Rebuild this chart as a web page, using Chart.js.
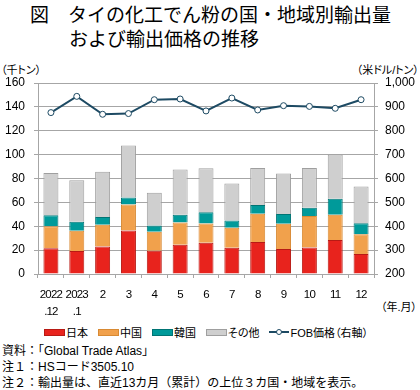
<!DOCTYPE html>
<html lang="ja">
<head>
<meta charset="utf-8">
<script src="https://cdn.jsdelivr.net/npm/chart.js@4/dist/chart.umd.min.js"></script>
<style>
    body { margin: 0; width: 420px; height: 390px; overflow: hidden; background: #fff; font-family: 'Liberation Sans', 'Noto Sans CJK JP', sans-serif; color: #000; font-feature-settings: 'palt'; }
    .abs { position: absolute; white-space: nowrap; }
    #title { left: 30px; top: 2px; font-size: 19px; line-height: 24px; font-family: 'Noto Sans CJK JP', sans-serif; font-feature-settings: normal; }
    #title .l2 { padding-left: 39px; }
    .unit { font-size: 11px; top: 61px; }
    #legend { top: 324px; left: 0; width: 412px; display: flex; justify-content: center; align-items: center; font-size: 11px; }
    #legend .item { display: flex; align-items: center; margin: 0 5px; }
    #legend .box { display: inline-block; width: 19px; height: 5px; margin-right: 1px; border: 1px solid; }
    #legend .ln { position: relative; display: inline-block; width: 20px; height: 2px; background: #1d4a63; margin-right: 1px; }
    #legend .ln i { position: absolute; left: 7px; top: -2px; width: 4px; height: 4px; border: 1px solid #1d4a63; border-radius: 50%; background: #fff; }
    #notes { left: 2px; top: 343px; font-size: 12px; line-height: 16px; font-feature-settings: normal; }
</style>
</head>
<body>
<div class="abs" id="title">図　タイの化工でん粉の国・地域別輸出量<br><span class="l2">および輸出価格の推移</span></div>
<div class="abs unit" style="left: 1px">（千トン）</div>
<div class="abs unit" style="right: 1px">（米ドル/トン）</div>
<div class="abs" style="right: 3px; top: 298px; font-size: 11px">（年.月）</div>
<div style="position: absolute; left: 0; top: 0; width: 420px; height: 322px">
    <canvas id="canvas"></canvas>
</div>
<div class="abs" id="legend">
    <span class="item"><span class="box" style="background: #e8231d; border-color: #b81a14"></span>日本</span>
    <span class="item"><span class="box" style="background: #f1a14c; border-color: #d88a34"></span>中国</span>
    <span class="item"><span class="box" style="background: #009a9a; border-color: #007474"></span>韓国</span>
    <span class="item"><span class="box" style="background: #cfcfcf; border-color: #9f9f9f"></span>その他</span>
    <span class="item"><span class="ln"><i></i></span>FOB価格（右軸）</span>
</div>
<div class="abs" id="notes">資料：「Global Trade Atlas」<br>注１：HSコード3505.10<br>注２：輸出量は、直近13カ月（累計）の上位３カ国・地域を表示。</div>
<script>
// Месяцы (подписи оси X).
const months = [['2022', '.12'], ['2023', '.1'], '2', '3', '4', '5', '6', '7', '8', '9', '10', '11', '12']

// Экспорт по странам, тыс. т.
const japan = [21.5, 19.2, 23.1, 36.5, 19.5, 24.5, 26.2, 22.0, 26.8, 20.9, 22.3, 28.4, 16.7]
const china = [18.6, 17.0, 18.2, 21.8, 15.9, 18.7, 16.2, 16.7, 23.7, 21.2, 26.2, 21.2, 16.7]
const korea = [9.2, 7.6, 6.4, 5.8, 5.3, 6.4, 9.4, 6.2, 7.2, 8.1, 7.0, 13.4, 9.2]
const others = [35.4, 34.8, 37.9, 43.5, 27.3, 37.9, 36.8, 30.9, 31.2, 34.0, 33.4, 37.1, 30.7]

// Цена FOB, долл./т (правая ось).
const fobPrice = [876, 944, 869, 872, 930, 933, 883, 937, 887, 905, 902, 894, 930]

Chart.defaults.animation = false
Chart.defaults.font.family = "'Liberation Sans', 'Noto Sans CJK JP', sans-serif"
Chart.defaults.font.size = 12
Chart.defaults.color = '#000'

const gridColor = '#a6a6a6'

// Сжимает подписи оси X, чтобы «2022» и «2023» не слипались.
const narrowLabels = {
    id: 'narrowLabels',
    beforeDraw(chart) {
        const x = chart.scales.x
        if (x._narrow) return
        const draw = x.drawLabels.bind(x)
        x.drawLabels = area => {
            chart.ctx.save()
            chart.ctx.letterSpacing = '-0.8px'
            draw(area)
            chart.ctx.restore()
        }
        x._narrow = true
    },
}

function bar(label, data, fill, border) {
    return {
        type: 'bar',
        label,
        data,
        backgroundColor: fill,
        borderColor: border,
        borderWidth: 1,
        barPercentage: 0.58,
        categoryPercentage: 1,
        order: 1,
    }
}

new Chart(document.querySelector('#canvas'), {
    data: {
        labels: months,
        datasets: [
            {
                type: 'line',
                label: 'FOB価格（右軸）',
                data: fobPrice,
                yAxisID: 'y1',
                borderColor: '#1d4a63',
                borderWidth: 2,
                pointBackgroundColor: '#fff',
                pointBorderColor: '#1d4a63',
                pointBorderWidth: 1,
                pointRadius: 3,
                tension: 0,
                order: 0,
            },
            bar('日本', japan, '#e8231d', '#b81a14'),
            bar('中国', china, '#f1a14c', '#d88a34'),
            bar('韓国', korea, '#009a9a', '#007474'),
            bar('その他', others, '#cfcfcf', '#9f9f9f'),
        ],
    },
    plugins: [narrowLabels],
    options: {
        responsive: true,
        maintainAspectRatio: false,
        layout: { padding: { top: 83, left: 0, right: 0, bottom: 0 } },
        plugins: {
            legend: { display: false },
            tooltip: { enabled: false },
        },
        scales: {
            x: {
                stacked: true,
                grid: { offset: true, drawOnChartArea: false, tickLength: 4, color: gridColor },
                border: { color: gridColor },
                ticks: {
                    autoSkip: false,
                    maxRotation: 0,
                    padding: 8,
                    font: { size: 11.5, lineHeight: 1.5 },
                },
                afterFit: s => { s.height = 48 },
            },
            y: {
                stacked: true,
                min: 0,
                max: 160,
                ticks: { stepSize: 20, padding: 9 },
                grid: { color: gridColor, tickLength: 4 },
                border: { color: gridColor },
                afterFit: s => { s.width = 38 },
            },
            y1: {
                position: 'right',
                min: 200,
                max: 1000,
                ticks: { stepSize: 100, padding: 7, callback: v => v.toLocaleString('en-US') },
                grid: { drawOnChartArea: false, color: gridColor, tickLength: 4 },
                border: { color: gridColor },
                afterFit: s => { s.width = 46 },
            },
        },
    },
})
</script>
</body>
</html>
